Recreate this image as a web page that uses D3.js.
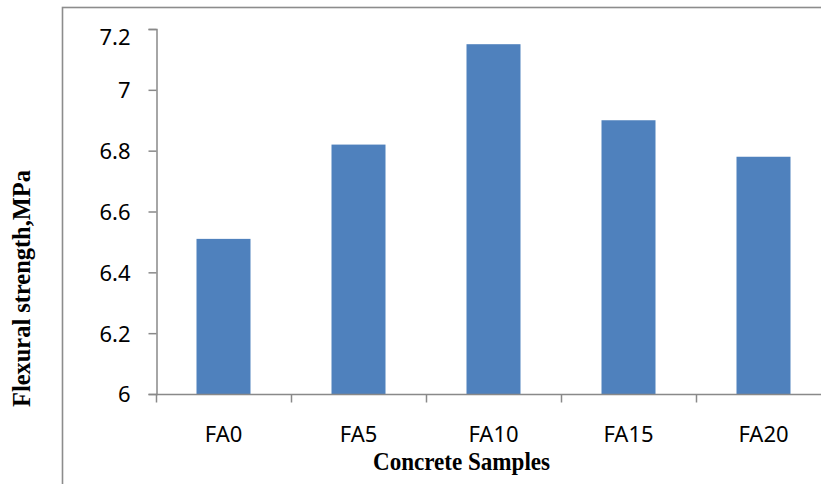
<!DOCTYPE html>
<html>

<head>
    <script src="https://d3js.org/d3.v7.min.js"></script>
    <style>
        body { margin: 0; background: #fff; }
    </style>
    <script>
        const w = 821
        const h = 484
        const samples = ["FA0", "FA5", "FA10", "FA15", "FA20"]
        const strength = [6.51, 6.82, 7.15, 6.90, 6.78]
        const yTicks = [6, 6.2, 6.4, 6.6, 6.8, 7, 7.2]
        const yLabels = ["6", "6.2", "6.4", "6.6", "6.8", "7", "7.2"]
        const axisColor = "#898989"

        function doSVG() {
            const svg = d3.select("body").append("svg")
                .attr("width", w)
                .attr("height", h)

            // outer chart frame (runs off the right and bottom of the picture)
            svg.append("rect")
                .attr("x", 62.5).attr("y", 7.5)
                .attr("width", 820).attr("height", 500)
                .attr("fill", "none")
                .attr("stroke", "#8c8c8c")
                .attr("stroke-width", 1.6)

            const x = d3.scaleBand().domain(samples).range([156, 831]).paddingInner(0.6).paddingOuter(0.3)
            const y = d3.scaleLinear().domain([6, 7.2]).range([394, 29])

            // bars
            svg.selectAll(".bar")
                .data(samples)
                .enter()
                .append("rect")
                .attr("x", d => x(d))
                .attr("width", x.bandwidth())
                .attr("y", (d, i) => y(strength[i]))
                .attr("height", (d, i) => y(6) - y(strength[i]))
                .attr("fill", "#4f81bd")

            // y axis
            const yAxis = svg.append("g")
                .attr("transform", "translate(156.5,0)")
                .call(d3.axisLeft(y).tickValues(yTicks).tickSize(8).tickPadding(0).tickFormat((d, i) => yLabels[i]))
            yAxis.select(".domain").attr("stroke", axisColor).attr("stroke-width", 1.5)
            yAxis.selectAll(".tick line").attr("stroke", axisColor).attr("stroke-width", 1.5)
            // top label sits a little below its tick, as in the original
            yAxis.selectAll(".tick text")
                .attr("x", -26)
                .attr("dy", d => d === 7.2 ? "0.7em" : "0.36em")
                .attr("fill", "#000")
                .style("font-family", "'Noto Sans', sans-serif")
                .style("font-size", "22px")

            // x axis: ticks on category boundaries
            const xLine = svg.append("g").attr("transform", "translate(0,394.5)")
            xLine.append("line")
                .attr("x1", 156).attr("x2", 831)
                .attr("stroke", axisColor).attr("stroke-width", 1.5)
            const bounds = samples.map((d, i) => x(d) - x.step() * x.paddingInner() / 2).concat([831])
            xLine.selectAll(".xt")
                .data(bounds)
                .enter()
                .append("line")
                .attr("x1", d => Math.round(d) + 0.5).attr("x2", d => Math.round(d) + 0.5)
                .attr("y1", 0).attr("y2", 8)
                .attr("stroke", axisColor).attr("stroke-width", 1.5)
            xLine.selectAll(".xl")
                .data(samples)
                .enter()
                .append("text")
                .attr("x", d => x(d) + x.bandwidth() / 2)
                .attr("y", 47.5)
                .attr("text-anchor", "middle")
                .style("font-family", "'Noto Sans', sans-serif")
                .style("font-size", "22px")
                .text(d => d)

            // axis titles
            svg.append("text")
                .attr("x", 461.5).attr("y", 470)
                .attr("text-anchor", "middle")
                .attr("textLength", 177)
                .attr("lengthAdjust", "spacingAndGlyphs")
                .style("font-family", "'Liberation Serif', 'Times New Roman', serif")
                .style("font-weight", "bold")
                .style("font-size", "25px")
                .text("Concrete Samples")

            svg.append("text")
                .attr("transform", "translate(30,288.5) rotate(-90)")
                .attr("text-anchor", "middle")
                .attr("textLength", 237)
                .attr("lengthAdjust", "spacingAndGlyphs")
                .style("font-family", "'Liberation Serif', 'Times New Roman', serif")
                .style("font-weight", "bold")
                .style("font-size", "25px")
                .text("Flexural strength,MPa")
        }
    </script>
</head>

<body onload="doSVG()">
</body>

</html>
